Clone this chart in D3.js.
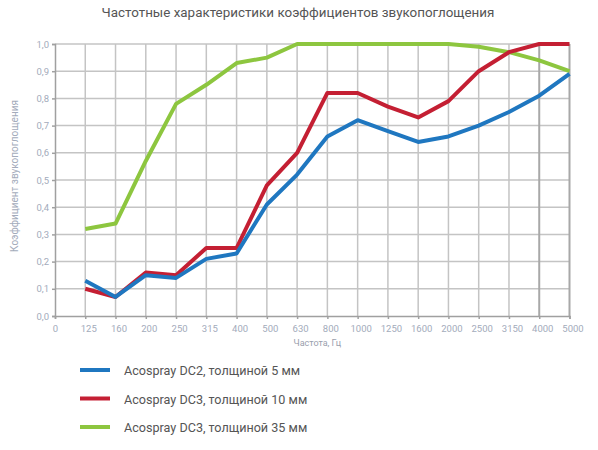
<!DOCTYPE html>
<html>
<head>
<meta charset="utf-8">
<script src="https://cdn.jsdelivr.net/npm/d3@7"></script>
<style>
  body { margin: 0; background: #fff; }
  text { font-family: Roboto, "Noto Sans", sans-serif; }
</style>
</head>
<body>
<div id="chart"></div>
<script>
// Chart data
var freqs = ["0", "125", "160", "200", "250", "315", "400", "500", "630", "800",
  "1000", "1250", "1600", "2000", "2500", "3150", "4000", "5000"];
var yTicks = [0, 0.1, 0.2, 0.3, 0.4, 0.5, 0.6, 0.7, 0.8, 0.9, 1.0];

var dc2_5mm = [0.13, 0.07, 0.15, 0.14, 0.21, 0.23, 0.41, 0.52, 0.66, 0.72,
  0.68, 0.64, 0.66, 0.70, 0.75, 0.81, 0.89];
var dc3_10mm = [0.10, 0.07, 0.16, 0.15, 0.25, 0.25, 0.48, 0.60, 0.82, 0.82,
  0.77, 0.73, 0.79, 0.90, 0.97, 1.00, 1.00];
var dc3_35mm = [0.32, 0.34, 0.57, 0.78, 0.85, 0.93, 0.95, 1.00, 1.00, 1.00,
  1.00, 1.00, 1.00, 0.99, 0.97, 0.94, 0.90];

var seriesNames = ["Acospray DC2, толщиной 5 мм", "Acospray DC3, толщиной 10 мм",
  "Acospray DC3, толщиной 35 мм"];
var seriesColors = ["#1f77c0", "#c41f33", "#8dc63f"];

var svgWidth = 598;
var svgHeight = 450;
var margin = { top: 44, right: 28.5, bottom: 134, left: 55 };
var width = svgWidth - margin.left - margin.right;
var height = svgHeight - margin.top - margin.bottom;

var svg = d3.select("#chart").append("svg")
  .attr("width", svgWidth)
  .attr("height", svgHeight);

// title
svg.append("text")
  .attr("x", 298)
  .attr("y", 17)
  .attr("text-anchor", "middle")
  .attr("font-size", "13.4px")
  .attr("fill", "#555")
  .text("Частотные характеристики коэффициентов звукопоглощения");

var chartGroup = svg.append("g")
  .attr("transform", `translate(${margin.left}, ${margin.top})`);

var x = d3.scalePoint().domain(freqs).range([0, width]);
var y = d3.scaleLinear().domain([0, 1]).range([height, 0]);

// grid
chartGroup.append("g").selectAll("line")
  .data(yTicks.slice(1))
  .enter().append("line")
  .attr("x1", 0).attr("x2", width)
  .attr("y1", d => y(d)).attr("y2", d => y(d))
  .attr("stroke", "#c4c4c4").attr("stroke-width", 1.5);

chartGroup.append("g").selectAll("line")
  .data(freqs.slice(1))
  .enter().append("line")
  .attr("x1", d => x(d)).attr("x2", d => x(d))
  .attr("y1", 0).attr("y2", height)
  .attr("stroke", d => (d === "4000" || d === "5000") ? "#a8a8a8" : "#c4c4c4")
  .attr("stroke-width", d => (d === "4000" || d === "5000") ? 2 : 1.5);

// axes
var bottomAxis = d3.axisBottom(x).tickSize(3).tickPadding(6);
var leftAxis = d3.axisLeft(y).tickValues(yTicks).tickSize(3).tickPadding(3)
  .tickFormat(d => d3.format(".1f")(d).replace(".", ","));

var xAxis = chartGroup.append("g")
  .attr("transform", `translate(0, ${height})`)
  .call(bottomAxis);
var yAxis = chartGroup.append("g").call(leftAxis);

[xAxis, yAxis].forEach(function(ax) {
  ax.select(".domain").attr("stroke", "#a0a0a0").attr("stroke-width", 1.5);
  ax.selectAll(".tick line").attr("stroke", "#a0a0a0").attr("stroke-width", 1.5);
  ax.selectAll(".tick text")
    .attr("fill", "#a3abbb")
    .attr("font-size", "9.5px")
    .attr("font-family", "Roboto, sans-serif");
});
xAxis.selectAll(".tick text").attr("dx", d => d === "0" ? 0 : 3);

// axis labels
chartGroup.append("text")
  .attr("x", width / 2 + 5)
  .attr("y", height + 30)
  .attr("text-anchor", "middle")
  .attr("font-size", "9px")
  .attr("fill", "#9aa0ad")
  .text("Частота, Гц");

chartGroup.append("text")
  .attr("transform", "rotate(-90)")
  .attr("x", -y(0.5) + 4)
  .attr("y", -37)
  .attr("text-anchor", "middle")
  .attr("font-size", "10px")
  .attr("fill", "#a3abbb")
  .text("Коэффициент звукопоглощения");

// lines
var allSeries = [dc2_5mm, dc3_10mm, dc3_35mm];
var line = d3.line()
  .x((d, i) => x(freqs[i + 1]))
  .y(d => y(d));

// draw green first, then red, then blue on top
[2, 1, 0].forEach(function(k) {
  chartGroup.append("path")
    .datum(allSeries[k])
    .attr("fill", "none")
    .attr("stroke", seriesColors[k])
    .attr("stroke-width", 4)
    .attr("stroke-linejoin", "round")
    .attr("d", line);
});

// legend
var legend = svg.append("g");
seriesNames.forEach(function(name, i) {
  var ly = 370 + i * 28.5;
  legend.append("line")
    .attr("x1", 80).attr("x2", 110)
    .attr("y1", ly).attr("y2", ly)
    .attr("stroke", seriesColors[i])
    .attr("stroke-width", 4);
  legend.append("text")
    .attr("x", 124)
    .attr("y", ly + 5)
    .attr("font-size", "12.6px")
    .attr("fill", "#555")
    .text(name);
});
</script>
</body>
</html>
